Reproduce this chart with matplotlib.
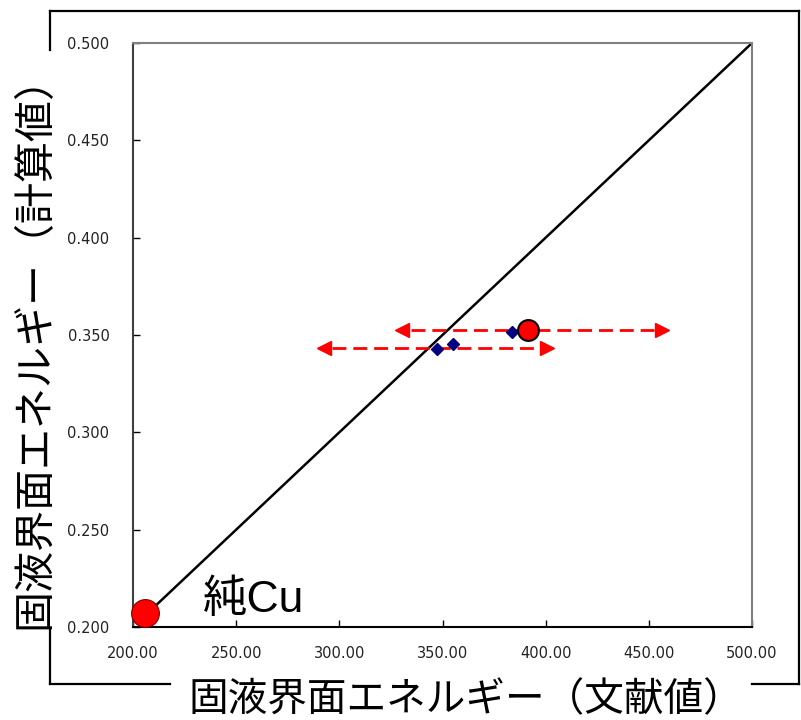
import matplotlib.pyplot as plt
from matplotlib.lines import Line2D

plt.rcParams['font.family'] = ['Noto Sans CJK JP', 'DejaVu Sans']

# 文献値 vs 計算値 (固液界面エネルギー)
cu_lit = 206.0
cu_calc = 0.207

diamond_lit = [347.5, 355.0, 383.5]
diamond_calc = [0.343, 0.3455, 0.3515]

circle_lit = [391.5]
circle_calc = [0.3525]

# 文献値のばらつき (中心, 半幅, 計算値)
range_center = [393.5, 346.5]
range_half = [63.0, 54.0]
range_y = [0.3525, 0.3433]

xticks = [200, 250, 300, 350, 400, 450, 500]
yticks = [0.200, 0.250, 0.300, 0.350, 0.400, 0.450, 0.500]

fig = plt.figure(figsize=(8.01, 7.2), dpi=100)
ax = fig.add_axes([133 / 801, 1 - 627 / 720, (752 - 133) / 801, (627 - 43) / 720])

# 外枠 (ラベル部分は切れている)
frame = dict(color='black', lw=1.6, transform=fig.transFigure, clip_on=False)
W, H = 801, 720
fig.add_artist(Line2D([50 / W, 799 / W], [1 - 10.5 / H, 1 - 10.5 / H], **frame))
fig.add_artist(Line2D([799 / W, 799 / W], [1 - 10.5 / H, 1 - 684 / H], **frame))
fig.add_artist(Line2D([752 / W, 799 / W], [1 - 684 / H, 1 - 684 / H], **frame))
fig.add_artist(Line2D([50 / W, 170 / W], [1 - 684 / H, 1 - 684 / H], **frame))
fig.add_artist(Line2D([50 / W, 50 / W], [1 - 630 / H, 1 - 684 / H], **frame))
fig.add_artist(Line2D([50 / W, 50 / W], [1 - 10.5 / H, 1 - 50 / H], **frame))

# y = x/1000 の線
ax.plot([cu_lit, 500], [cu_lit / 1000, 0.5], color='black', lw=1.8, zorder=2)

# ばらつきの矢印
for c, h, y in zip(range_center, range_half, range_y):
    ax.plot([c - h + 4, c + h - 4], [y, y], color='red', lw=2, ls=(0, (5, 2.5)), zorder=3)
    ax.plot([c - h], [y], marker='<', color='red', ms=10, mec='red', zorder=3)
    ax.plot([c + h], [y], marker='>', color='red', ms=10, mec='red', zorder=3)

ax.plot(diamond_lit, diamond_calc, ls='none', marker='D', ms=6, color='#000080', zorder=4)
ax.plot(circle_lit, circle_calc, ls='none', marker='o', ms=15, mfc='red', mec='black', mew=1.5, zorder=5)
ax.plot([cu_lit], [cu_calc], ls='none', marker='o', ms=20, mfc='red', mec='#800000', mew=0.8,
        zorder=5, clip_on=False)

ax.text(234, 0.2075, '純Cu', fontsize=32, family=['Liberation Sans', 'Noto Sans CJK JP'])

ax.set_xlim(200, 500)
ax.set_ylim(0.2, 0.5)
ax.set_xticks(xticks)
ax.set_yticks(yticks)
ax.set_xticklabels(['%.2f' % v for v in xticks], fontsize=10.5, family='DejaVu Sans', color='#222222')
ax.set_yticklabels(['%.3f' % v for v in yticks], fontsize=10.5, family='DejaVu Sans', color='#222222')
ax.tick_params(direction='in', length=5, width=1, pad=14)
ax.tick_params(axis='y', pad=17)

ax.spines['bottom'].set_color('black')
ax.spines['left'].set_color('#404040')
ax.spines['top'].set_color('#808080')
ax.spines['right'].set_color('#808080')
for s in ax.spines.values():
    s.set_linewidth(1.5)

fig.text(188 / W, 1 - 700 / H, '固液界面エネルギー（文献値）', fontsize=28.5, va='center', ha='left')
fig.text(35 / W, 1 - 342 / H, '固液界面エネルギー（計算値）', fontsize=29.5, rotation=90,
         va='center', ha='center')

fig.savefig('out.png', dpi=100)
